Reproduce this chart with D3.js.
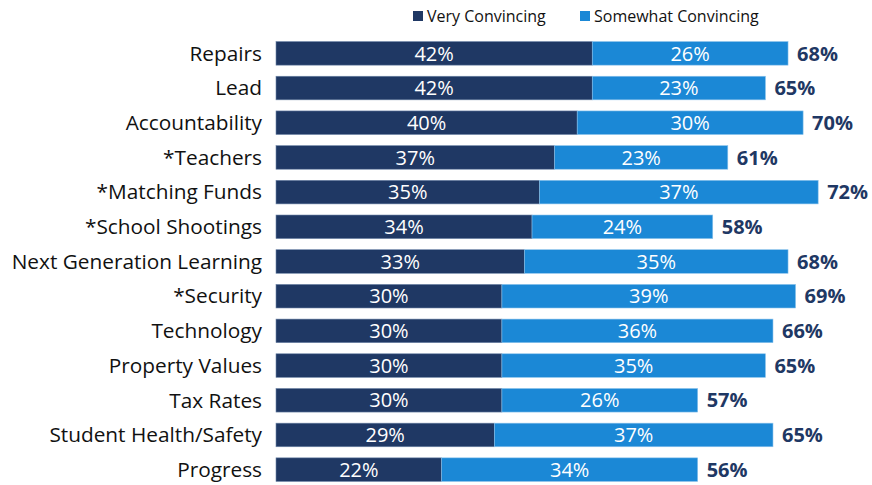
<!DOCTYPE html>
<html>
<head>
<meta charset="utf-8">
<script src="https://cdn.jsdelivr.net/npm/d3@7"></script>
<style>
  body { margin: 0; background: #fff; }
  text { font-family: "Open Sans", Lato, sans-serif; }
</style>
</head>
<body>
<script>
// données
var categories = ['Repairs', 'Lead', 'Accountability', '*Teachers', '*Matching Funds',
  '*School Shootings', 'Next Generation Learning', '*Security', 'Technology',
  'Property Values', 'Tax Rates', 'Student Health/Safety', 'Progress'];
var veryConvincing = [42, 42, 40, 37, 35, 34, 33, 30, 30, 30, 30, 29, 22];
var somewhatConvincing = [26, 23, 30, 23, 37, 24, 35, 39, 36, 35, 26, 37, 34];
var totals = [68, 65, 70, 61, 72, 58, 68, 69, 66, 65, 57, 65, 56];
var seriesNames = ['Very Convincing', 'Somewhat Convincing'];

var width = 872, height = 485;
var DARK = '#1f3864', LIGHT = '#1b88d6';

var svg = d3.select('body').append('svg')
  .attr('width', width).attr('height', height);

var x = d3.scaleLinear().domain([0, 100]).range([276, 276 + 753]);
var y = d3.scaleBand().domain(categories).range([36, 487]).paddingInner(0.32).paddingOuter(0.16);

var rows = categories.map(function(c, i){
  return { cat: c, v: veryConvincing[i], s: somewhatConvincing[i], t: totals[i] };
});

// libellés des catégories
svg.append('g').selectAll('text').data(rows).join('text')
  .attr('x', 262)
  .attr('y', function(d){ return y(d.cat) + y.bandwidth()/2; })
  .attr('dy', '0.35em')
  .attr('text-anchor', 'end')
  .attr('font-size', 20.8)
  .attr('fill', '#111')
  .text(function(d){ return d.cat; });

// barres foncées
svg.append('g').selectAll('rect').data(rows).join('rect')
  .attr('x', x(0))
  .attr('y', function(d){ return y(d.cat); })
  .attr('width', function(d){ return x(d.v) - x(0); })
  .attr('height', y.bandwidth())
  .attr('fill', DARK)
  .attr('stroke', '#6f86a8').attr('stroke-width', 0.6);

// barres claires
svg.append('g').selectAll('rect').data(rows).join('rect')
  .attr('x', function(d){ return x(d.v); })
  .attr('y', function(d){ return y(d.cat); })
  .attr('width', function(d){ return x(d.v + d.s) - x(d.v); })
  .attr('height', y.bandwidth())
  .attr('fill', LIGHT)
  .attr('stroke', '#8cc3ec').attr('stroke-width', 0.6);

// valeurs dans les barres
var inner = svg.append('g').attr('fill', '#fff').attr('font-size', 20).attr('text-anchor', 'middle');
inner.selectAll('text.v').data(rows).join('text').attr('class', 'v')
  .attr('x', function(d){ return (x(0) + x(d.v))/2; })
  .attr('y', function(d){ return y(d.cat) + y.bandwidth()/2; })
  .attr('dy', '0.36em')
  .text(function(d){ return d.v + '%'; });
inner.selectAll('text.s').data(rows).join('text').attr('class', 's')
  .attr('x', function(d){ return (x(d.v) + x(d.v + d.s))/2; })
  .attr('y', function(d){ return y(d.cat) + y.bandwidth()/2; })
  .attr('dy', '0.36em')
  .text(function(d){ return d.s + '%'; });

// totaux
svg.append('g').selectAll('text').data(rows).join('text')
  .attr('x', function(d){ return x(d.v + d.s) + 9; })
  .attr('y', function(d){ return y(d.cat) + y.bandwidth()/2; })
  .attr('dy', '0.36em')
  .attr('font-size', 20).attr('font-weight', 'bold')
  .attr('fill', DARK)
  .text(function(d){ return d.t + '%'; });

// légende
var legendX = [413, 580];
var legend = svg.append('g').selectAll('g').data(seriesNames).join('g')
  .attr('transform', function(d, i){ return 'translate(' + legendX[i] + ',11)'; });
legend.append('rect').attr('width', 10).attr('height', 10)
  .attr('fill', function(d, i){ return i === 0 ? DARK : LIGHT; });
legend.append('text').attr('x', 14).attr('y', 5).attr('dy', '0.36em')
  .attr('font-size', 16).attr('fill', '#111')
  .text(function(d){ return d; });
</script>
</body>
</html>
